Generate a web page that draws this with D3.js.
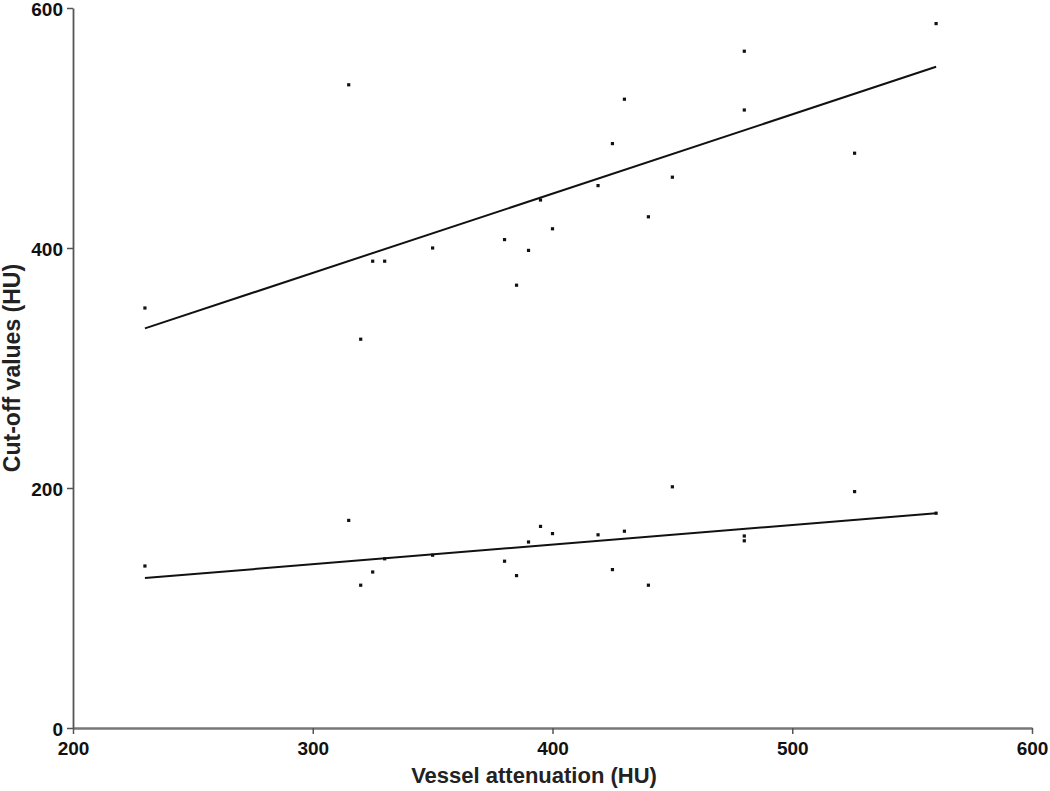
<!DOCTYPE html>
<html>
<head>
<meta charset="utf-8">
<script src="https://cdn.jsdelivr.net/npm/d3@7"></script>
<style>
  html, body { margin: 0; padding: 0; background: #fff; }
  svg { display: block; }
</style>
</head>
<body>
<svg id="chart" width="1050" height="791"></svg>
<script>
// ---- data ----
const vesselAttenuation = [230, 315, 320, 325, 330, 350, 380, 385, 390, 395, 400, 419, 425, 430, 440, 450, 480, 480, 526, 560];
const upperCutoff = [350, 536, 324, 389, 389, 400, 407, 369, 398, 440, 416, 452, 487, 524, 426, 459, 564, 515, 479, 587];
const lowerCutoff = [135, 173, 119, 130, 141, 144, 139, 127, 155, 168, 162, 161, 132, 164, 119, 201, 160, 156, 197, 179];
const upperFitX = [230, 560];
const upperFitY = [333, 551];
const lowerFitX = [230, 560];
const lowerFitY = [125, 179];
const xTicks = [200, 300, 400, 500, 600];
const yTicks = [0, 200, 400, 600];
const xTitle = "Vessel attenuation (HU)";
const yTitle = "Cut-off values (HU)";

// ---- layout ----
const svg = d3.select("#chart");
const x = d3.scaleLinear().domain([200, 600]).range([73, 1032]);
const y = d3.scaleLinear().domain([0, 600]).range([728, 8]);
const font = "'Liberation Sans', Arial, Helvetica, sans-serif";
const axisColor = "#555";

// x axis
const gx = svg.append("g")
  .attr("transform", `translate(0,${y(0)})`)
  .call(d3.axisBottom(x).tickValues(xTicks).tickFormat(d3.format("d")).tickSize(6).tickSizeOuter(0).tickPadding(8));
gx.select(".domain").attr("stroke", "#777").attr("stroke-width", 2.5);
gx.selectAll(".tick line").attr("stroke", axisColor).attr("stroke-width", 1.5);
gx.selectAll(".tick text").attr("font-family", font).attr("font-size", 19).attr("font-weight", "bold").attr("fill", "#111");

// y axis
const gy = svg.append("g")
  .attr("transform", `translate(${x(200)},0)`)
  .call(d3.axisLeft(y).tickValues(yTicks).tickFormat(d3.format("d")).tickSize(6).tickSizeOuter(0).tickPadding(4));
gy.select(".domain").attr("stroke", axisColor).attr("stroke-width", 1.8);
gy.selectAll(".tick line").attr("stroke", axisColor).attr("stroke-width", 1.5);
gy.selectAll(".tick text").attr("font-family", font).attr("font-size", 19).attr("font-weight", "bold").attr("fill", "#111")
  .attr("dy", "0.4em");

// titles
svg.append("text")
  .attr("x", 534).attr("y", 783)
  .attr("text-anchor", "middle")
  .attr("font-family", font).attr("font-size", 22).attr("font-weight", "bold").attr("fill", "#222")
  .text(xTitle);
svg.append("text")
  .attr("transform", `translate(20,368) rotate(-90)`)
  .attr("text-anchor", "middle")
  .attr("font-family", font).attr("font-size", 23).attr("font-weight", "bold").attr("fill", "#222")
  .text(yTitle);

// fit lines
const line = d3.line().x(d => x(d[0])).y(d => y(d[1]));
svg.append("path")
  .datum(upperFitX.map((v, i) => [v, upperFitY[i]]))
  .attr("d", line).attr("fill", "none").attr("stroke", "#111").attr("stroke-width", 2);
svg.append("path")
  .datum(lowerFitX.map((v, i) => [v, lowerFitY[i]]))
  .attr("d", line).attr("fill", "none").attr("stroke", "#111").attr("stroke-width", 2);

// points
const s = 3.2;
function drawPoints(vals) {
  svg.append("g").selectAll("rect")
    .data(vesselAttenuation.map((v, i) => [v, vals[i]]))
    .join("rect")
    .attr("x", d => x(d[0]) - s / 2)
    .attr("y", d => y(d[1]) - s / 2)
    .attr("width", s).attr("height", s)
    .attr("fill", "#111");
}
drawPoints(upperCutoff);
drawPoints(lowerCutoff);
</script>
</body>
</html>
